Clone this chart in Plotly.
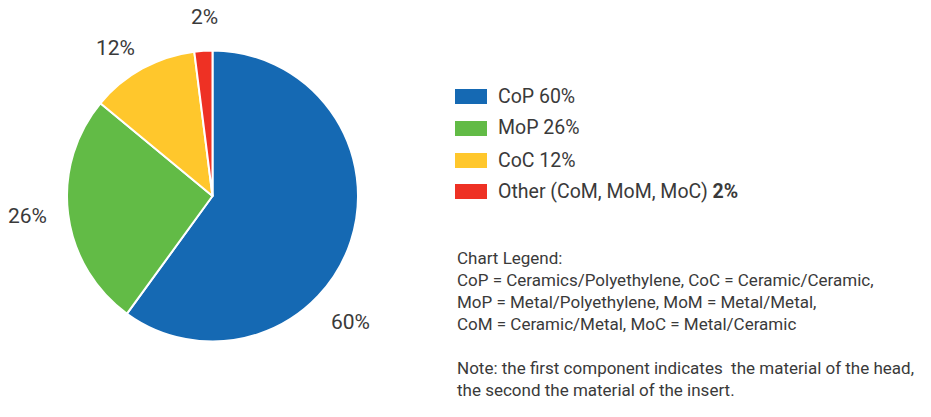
import plotly.graph_objects as go

W, H = 931, 417

categories = ["CoP", "MoP", "CoC", "Other"]
values = [60, 26, 12, 2]
legend_labels = ["CoP 60%", "MoP 26%", "CoC 12%", "Other (CoM, MoM, MoC) <b>2%</b>"]
colors = ["#1569B3", "#62BB46", "#FFC72C", "#EE3124"]
note_lines = [
    "Chart Legend:",
    "CoP = Ceramics/Polyethylene, CoC = Ceramic/Ceramic,",
    "MoP = Metal/Polyethylene, MoM = Metal/Metal,",
    "CoM = Ceramic/Metal, MoC = Metal/Ceramic",
    "",
    "Note: the first component indicates  the material of the head,",
    "the second the material of the insert.",
]

FONT = "Roboto, 'Open Sans', sans-serif"
TXT = "#3a3a3a"

def px(x):
    return x / W

def py(y):
    return 1 - y / H

fig = go.Figure()
fig.add_trace(go.Pie(
    labels=categories,
    values=values,
    sort=False,
    direction="clockwise",
    rotation=0,
    marker=dict(colors=colors, line=dict(color="white", width=2)),
    textinfo="none",
    hoverinfo="label+percent",
    domain=dict(x=[px(67), px(358)], y=[py(342), py(50)]),
    showlegend=False,
))

# percentage labels around the pie
label_pos = [(350, 322), (27, 216), (115, 48), (204, 17)]
annotations = []
for v, (x, y) in zip(values, label_pos):
    annotations.append(dict(
        x=px(x), y=py(y), xref="paper", yref="paper",
        text=f"{v}%", showarrow=False, xanchor="center", yanchor="middle",
        font=dict(family=FONT, size=21, color=TXT),
    ))

# custom legend
shapes = []
leg_y = [96, 128, 160, 191]
for c, lab, y in zip(colors, legend_labels, leg_y):
    shapes.append(dict(
        type="rect", xref="paper", yref="paper",
        x0=px(455), x1=px(487), y0=py(y + 8), y1=py(y - 7),
        fillcolor=c, line=dict(width=0),
    ))
    annotations.append(dict(
        x=px(496), y=py(y), xref="paper", yref="paper",
        text=lab, showarrow=False, xanchor="left", yanchor="middle",
        font=dict(family=FONT, size=19.5, color=TXT),
    ))

# notes
note_y0 = 258
for i, line in enumerate(note_lines):
    if not line:
        continue
    annotations.append(dict(
        x=px(455), y=py(note_y0 + i * 22), xref="paper", yref="paper",
        text=line, showarrow=False, xanchor="left", yanchor="middle",
        font=dict(family=FONT, size=17, color=TXT),
    ))

fig.update_layout(
    width=W, height=H,
    margin=dict(l=0, r=0, t=0, b=0),
    paper_bgcolor="white",
    plot_bgcolor="white",
    annotations=annotations,
    shapes=shapes,
)

fig.write_html(
    "out.html",
    config={"displayModeBar": False},
    post_script="document.body.style.margin='0';document.body.style.overflow='hidden';",
)
